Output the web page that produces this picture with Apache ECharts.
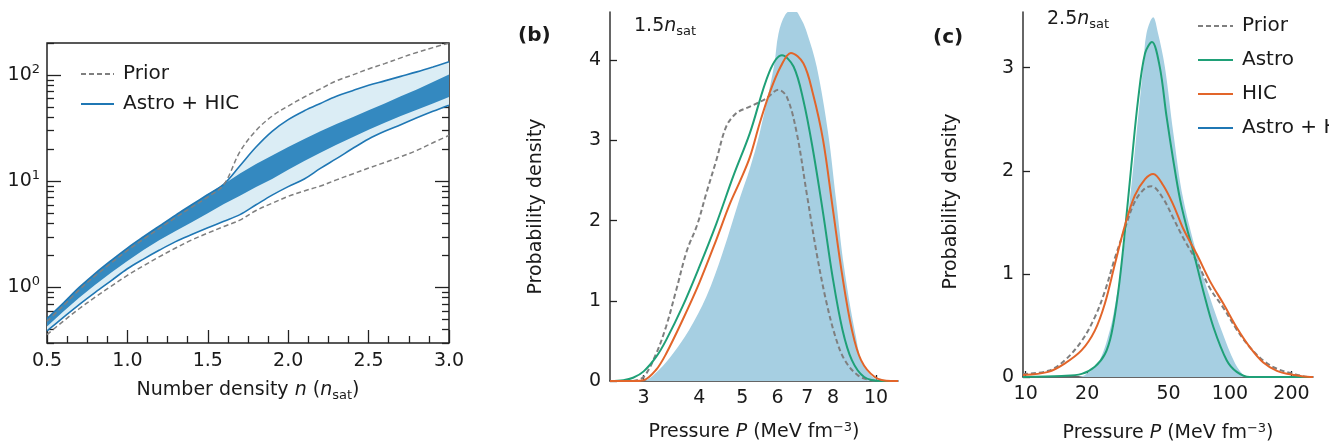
<!DOCTYPE html>
<html><head><meta charset="utf-8">
<script src="https://cdn.jsdelivr.net/npm/echarts@6/dist/echarts.min.js"></script>
<style>html,body{margin:0;padding:0;background:#fff}#c{width:1329px;height:448px}</style>
</head><body><div id="c"></div>
<script>
// ---------- Panel (a): pressure bands vs number density ----------
const nGrid      = [0.5,0.6,0.7,0.8,0.9,1.0,1.1,1.2,1.3,1.4,1.5,1.6,1.7,1.8,1.9,2.0,2.1,2.2,2.3,2.4,2.5,2.6,2.7,2.8,2.9,3.0];
const darkUpper  = [0.51,0.71,1.0,1.36,1.8,2.35,3.0,3.8,4.8,6.0,7.5,9.4,11.8,14.5,17.5,21,25,29.5,34.5,40,46.5,54,63,73,86,101];
const darkLower  = [0.43,0.59,0.8,1.06,1.38,1.77,2.25,2.8,3.4,4.1,5.0,6.1,7.3,8.8,10.5,12.8,15.5,18.5,22,26,30.5,35.5,41,47,54,62];
const lightUpper = [0.51,0.71,1.0,1.36,1.8,2.35,3.0,3.8,4.8,6.0,7.5,9.4,14,21,29.5,38,46,54,63,71,80,88,97,107,119,133];
const lightLower = [0.39,0.52,0.69,0.9,1.16,1.5,1.85,2.25,2.7,3.15,3.65,4.2,4.85,6.0,7.4,8.9,10.5,13.2,16.3,20.3,25,29.5,34,39.5,45.5,52];
const priorUpper = [0.48,0.67,0.95,1.29,1.7,2.23,2.85,3.6,4.55,5.7,7.1,9.3,19,30,41,51,62,74,88,100,114,128,145,163,181,200];
const priorLower = [0.36,0.48,0.63,0.81,1.03,1.3,1.6,1.95,2.35,2.8,3.25,3.75,4.3,5.3,6.2,7.2,8.1,9.0,10.3,11.7,13.3,15.0,17.0,19.5,23,27];
const aYMajor = [1,10,100];
const aYMinor = [0.3,0.4,0.5,0.6,0.7,0.8,0.9,2,3,4,5,6,7,8,9,20,30,40,50,60,70,80,90,200];

// ---------- Panel (b): 1.5 n_sat ----------
const bPriorP = [2.84,3.0,3.2,3.37,3.55,3.75,3.96,4.15,4.37,4.6,4.85,5.2,5.65,6.03,6.3,6.63,6.98,7.35,7.71,8.1,8.5,9.1,9.75,10.5];
const bPriorY = [0,0.05,0.34,0.68,1.13,1.62,1.95,2.34,2.75,3.17,3.34,3.42,3.52,3.63,3.54,3.09,2.34,1.59,1.01,0.55,0.26,0.07,0.01,0];
const bAstroP = [2.52,2.7,2.84,3.0,3.2,3.37,3.67,4.0,4.37,4.77,5.2,5.75,6.14,6.52,6.86,7.21,7.6,7.98,8.4,8.82,9.4,10.3,11.2];
const bAstroY = [0,0.01,0.04,0.12,0.30,0.51,0.93,1.42,1.96,2.55,3.09,3.85,4.06,3.92,3.50,2.88,2.09,1.30,0.64,0.26,0.05,0,0];
const bHicP   = [2.52,2.84,3.0,3.2,3.37,3.67,4.0,4.37,4.69,4.95,5.2,5.47,5.75,6.1,6.43,6.86,7.21,7.6,7.98,8.4,8.82,9.25,9.93,10.8,11.2];
const bHicY   = [0,0,0.01,0.14,0.34,0.76,1.22,1.76,2.21,2.50,2.79,3.21,3.58,3.92,4.09,3.96,3.58,3.0,2.17,1.30,0.64,0.26,0.05,0,0];
const bCombP  = [2.95,3.04,3.25,3.49,3.79,4.15,4.51,4.95,5.2,5.47,5.89,6.03,6.25,6.52,6.8,7.0,7.35,7.8,8.13,8.47,8.98,9.4,10.3,11.2];
const bCombY  = [0,0.01,0.14,0.34,0.63,1.05,1.59,2.30,2.65,3.09,3.92,4.33,4.57,4.63,4.5,4.33,3.92,3.09,2.25,1.42,0.59,0.18,0,0];
const bXTicks = [3,4,5,6,7,8,10];
const bYTicks = [0,1,2,3,4];

// ---------- Panel (c): 2.5 n_sat ----------
const cPriorP = [9.7,12.9,15.5,18.8,21.8,24.4,27.3,30.6,34.2,38.4,41.3,47.1,52.8,59,68.8,79.8,92.9,107.9,125,145.6,169.8,204.5,247,255];
const cPriorY = [0.03,0.06,0.16,0.35,0.58,0.83,1.15,1.44,1.70,1.83,1.85,1.73,1.54,1.35,1.12,0.86,0.67,0.46,0.29,0.16,0.08,0.03,0,0];
const cAstroP = [9.7,15,18.8,21.8,24.4,26.3,28.4,30.6,32.9,35.5,38.4,41.5,45.3,48.9,52.8,57,61.4,66.1,74.1,83.1,96.5,107.9,125,255];
const cAstroY = [0,0.01,0.03,0.10,0.22,0.42,0.83,1.41,2.05,2.69,3.14,3.25,3.01,2.53,2.1,1.72,1.45,1.22,0.83,0.48,0.16,0.05,0,0];
const cHicP   = [9.7,12.9,15.5,18.8,21.8,24.4,27.3,30.6,34.2,38.4,42.1,47.1,52.8,59,68.8,79.8,92.9,107.9,125,145.6,169.8,204.5,247,255];
const cHicY   = [0.02,0.05,0.13,0.26,0.45,0.71,1.09,1.47,1.76,1.92,1.97,1.86,1.67,1.44,1.19,0.93,0.71,0.48,0.29,0.14,0.06,0.02,0,0];
const cCombP  = [18,19.5,22.6,25.8,27.8,29.5,32.4,34.9,37.6,39,42.1,44.5,48,52.8,59,71.1,79.8,91,106,118,125];
const cCombY  = [0,0.02,0.13,0.45,0.77,1.09,1.73,2.37,3.01,3.33,3.49,3.33,3.01,2.37,1.73,1.09,0.77,0.45,0.13,0.01,0];
const cXTicks = [10,20,50,100,200];
const cYTicks = [0,1,2,3];

// ---------- styles ----------
const FONT = 'DejaVu Sans';
const C_TXT = '#1a1a1a', C_AX = '#333';
const C_PRIOR = '#7f7f7f', C_ASTRO = '#1fa077', C_HIC = '#e2652a', C_BLUE = '#1f77b4';
const C_DARK = '#3489c0', C_LIGHT = '#dbedf5', C_FILL = '#a6cfe2';

const zip = (a, b) => a.map((v, i) => [v, b[i]]);

function band(name, upper, lower, color, z) {
  return {
    type: 'custom', name, xAxisIndex: 0, yAxisIndex: 0, clip: true, silent: true, z,
    data: [[nGrid[0], lower[0]]],
    renderItem(params, api) {
      const pts = [];
      for (let i = 0; i < nGrid.length; i++) pts.push(api.coord([nGrid[i], upper[i]]));
      for (let i = nGrid.length - 1; i >= 0; i--) pts.push(api.coord([nGrid[i], lower[i]]));
      return { type: 'polygon', shape: { points: pts }, style: { fill: color } };
    }
  };
}
function line(name, data, color, width, dashed, xi, yi, z) {
  return {
    type: 'line', name, data, xAxisIndex: xi, yAxisIndex: yi, smooth: 0.35,
    symbol: 'none', showSymbol: false, silent: true, z: z || 3,
    lineStyle: { color, width, type: dashed ? [5, 3] : 'solid' }, itemStyle: { color }
  };
}
function fill(name, data, xi, yi) {
  return {
    type: 'line', name, data, xAxisIndex: xi, yAxisIndex: yi, smooth: 0.35,
    symbol: 'none', showSymbol: false, silent: true, z: 1,
    lineStyle: { width: 0, color: C_FILL }, itemStyle: { color: C_FILL },
    areaStyle: { color: C_FILL, opacity: 1 }
  };
}

const tickStyle = { color: '#222', width: 1.3 };
const labelBase = { fontFamily: FONT, fontSize: 19, color: C_TXT };
const richName = {
  i: { fontFamily: FONT, fontSize: 19, fontStyle: 'italic', color: C_TXT },
  s: { fontFamily: FONT, fontSize: 13, color: C_TXT, padding: [10, 0, 0, 0] },
  u: { fontFamily: FONT, fontSize: 13, color: C_TXT, padding: [0, 0, 10, 0] }
};
const nameStyle = { fontFamily: FONT, fontSize: 19, color: C_TXT, rich: richName };

function logYA(pos, major) {
  return {
    type: 'log', logBase: 10, gridIndex: 0, min: 0.3, max: 200, position: pos,
    axisLine: { show: false }, splitLine: { show: false },
    axisTick: { show: true, inside: true, length: major ? 14 : 7, lineStyle: tickStyle,
                customValues: major ? aYMajor : aYMinor },
    axisLabel: (pos === 'left' && major) ? {
      ...labelBase, margin: 7, customValues: aYMajor,
      formatter: v => '{b|10}{p|' + Math.round(Math.log10(v)) + '}',
      rich: { b: { fontFamily: FONT, fontSize: 19, color: C_TXT },
              p: { fontFamily: FONT, fontSize: 13, color: C_TXT, padding: [0, 0, 11, 0] } }
    } : { show: false }
  };
}

const legendText = { fontFamily: FONT, fontSize: 20, color: C_TXT, padding: [0, 0, 0, 4] };

const option = {
  animation: false,
  backgroundColor: '#fff',
  textStyle: { fontFamily: FONT },
  grid: [
    { left: 47, top: 43, width: 402, height: 300, show: true, borderColor: '#222', borderWidth: 1.5, backgroundColor: 'transparent' },
    { left: 610, top: 12, width: 288, height: 369 },
    { left: 1023, top: 12, width: 290, height: 368 }
  ],
  xAxis: [
    { type: 'value', gridIndex: 0, min: 0.5, max: 3.0, interval: 0.5,
      axisLine: { show: false }, splitLine: { show: false }, minorSplitLine: { show: false },
      axisTick: { show: true, inside: true, length: 13, lineStyle: tickStyle },
      minorTick: { show: true, splitNumber: 4, length: 7, lineStyle: tickStyle },
      axisLabel: { ...labelBase, margin: 9, formatter: v => v.toFixed(1) },
      name: 'Number density {i|n} ({i|n}{s|sat})', nameLocation: 'middle', nameGap: 36, nameTextStyle: nameStyle },
    { type: 'log', logBase: 10, gridIndex: 1, min: 2.52, max: 11.2,
      axisLine: { show: true, lineStyle: { color: C_AX, width: 1.5 } }, splitLine: { show: false },
      axisTick: { show: true, inside: true, length: 6, lineStyle: tickStyle, customValues: bXTicks },
      axisLabel: { ...labelBase, margin: 8, customValues: bXTicks },
      name: 'Pressure {i|P} (MeV fm{u|\u22123})', nameLocation: 'middle', nameGap: 40, nameTextStyle: nameStyle },
    { type: 'log', logBase: 10, gridIndex: 2, min: 9.7, max: 255,
      axisLine: { show: true, lineStyle: { color: C_AX, width: 1.5 } }, splitLine: { show: false },
      axisTick: { show: true, inside: true, length: 6, lineStyle: tickStyle, customValues: cXTicks },
      axisLabel: { ...labelBase, margin: 8, customValues: cXTicks },
      name: 'Pressure {i|P} (MeV fm{u|\u22123})', nameLocation: 'middle', nameGap: 45, nameTextStyle: nameStyle }
  ],
  yAxis: [
    logYA('left', true), logYA('left', false), logYA('right', true), logYA('right', false),
    { type: 'value', gridIndex: 1, min: 0, max: 4.6,
      axisLine: { show: true, lineStyle: { color: C_AX, width: 1.5 } }, splitLine: { show: false },
      axisTick: { show: true, inside: true, length: 7, lineStyle: tickStyle, customValues: bYTicks },
      axisLabel: { ...labelBase, margin: 9, customValues: bYTicks },
      name: 'Probability density', nameLocation: 'middle', nameGap: 64, nameRotate: 90,
      nameTextStyle: { ...nameStyle, padding: [0, 20, 0, 0] } },
    { type: 'value', gridIndex: 2, min: 0, max: 3.54,
      axisLine: { show: true, lineStyle: { color: C_AX, width: 1.5 } }, splitLine: { show: false },
      axisTick: { show: true, inside: true, length: 7, lineStyle: tickStyle, customValues: cYTicks },
      axisLabel: { ...labelBase, margin: 9, customValues: cYTicks },
      name: 'Probability density', nameLocation: 'middle', nameGap: 62, nameRotate: 90,
      nameTextStyle: { ...nameStyle, padding: [0, 14, 0, 0] } }
  ],
  legend: [
    { data: ['Prior', 'Astro + HIC'], orient: 'vertical', left: 75, top: 59, itemWidth: 33, itemHeight: 14, itemGap: 10,
      selectedMode: false, itemStyle: { opacity: 0 }, textStyle: legendText },
    { data: ['Prior', 'Astro', 'HIC', 'Astro + HIC'], orient: 'vertical', left: 1192, top: 11, itemWidth: 35, itemHeight: 14, itemGap: 14,
      selectedMode: false, itemStyle: { opacity: 0 }, textStyle: legendText }
  ],
  graphic: [
    { type: 'text', left: 518, top: 26, style: { text: '(b)', fontFamily: FONT, fontSize: 20, fontWeight: 'bold', fill: C_TXT } },
    { type: 'text', left: 933, top: 28, style: { text: '(c)', fontFamily: FONT, fontSize: 20, fontWeight: 'bold', fill: C_TXT } },
    { type: 'text', left: 634, top: 17, style: { text: '1.5{i|n}{s|sat}', fontFamily: FONT, fontSize: 19, fill: C_TXT,
        rich: { i: { fontFamily: FONT, fontSize: 19, fontStyle: 'italic', fill: C_TXT }, s: { fontFamily: FONT, fontSize: 13, fill: C_TXT, padding: [10, 0, 0, 0] } } } },
    { type: 'text', left: 1047, top: 10, style: { text: '2.5{i|n}{s|sat}', fontFamily: FONT, fontSize: 19, fill: C_TXT,
        rich: { i: { fontFamily: FONT, fontSize: 19, fontStyle: 'italic', fill: C_TXT }, s: { fontFamily: FONT, fontSize: 13, fill: C_TXT, padding: [10, 0, 0, 0] } } } }
  ],
  series: [
    band('90% band', lightUpper, lightLower, C_LIGHT, 1),
    band('68% band', darkUpper, darkLower, C_DARK, 2),
    line('Astro + HIC', zip(nGrid, lightUpper), C_BLUE, 1.6, false, 0, 0, 3),
    line('Astro + HIC', zip(nGrid, lightLower), C_BLUE, 1.6, false, 0, 0, 3),
    line('Prior', zip(nGrid, priorUpper), C_PRIOR, 1.5, true, 0, 0, 4),
    line('Prior', zip(nGrid, priorLower), C_PRIOR, 1.5, true, 0, 0, 4),

    fill('Astro + HIC (1.5)', zip(bCombP, bCombY), 1, 4),
    line('Prior', zip(bPriorP, bPriorY), C_PRIOR, 2, true, 1, 4, 3),
    line('Astro', zip(bAstroP, bAstroY), C_ASTRO, 2, false, 1, 4, 4),
    line('HIC', zip(bHicP, bHicY), C_HIC, 2, false, 1, 4, 5),

    fill('Astro + HIC (2.5)', zip(cCombP, cCombY), 2, 5),
    line('Prior', zip(cPriorP, cPriorY), C_PRIOR, 2, true, 2, 5, 3),
    line('Astro', zip(cAstroP, cAstroY), C_ASTRO, 2, false, 2, 5, 4),
    line('HIC', zip(cHicP, cHicY), C_HIC, 2, false, 2, 5, 5)
  ]
};
echarts.init(document.getElementById('c'), null, { renderer: 'canvas' }).setOption(option);
</script>
</body></html>
